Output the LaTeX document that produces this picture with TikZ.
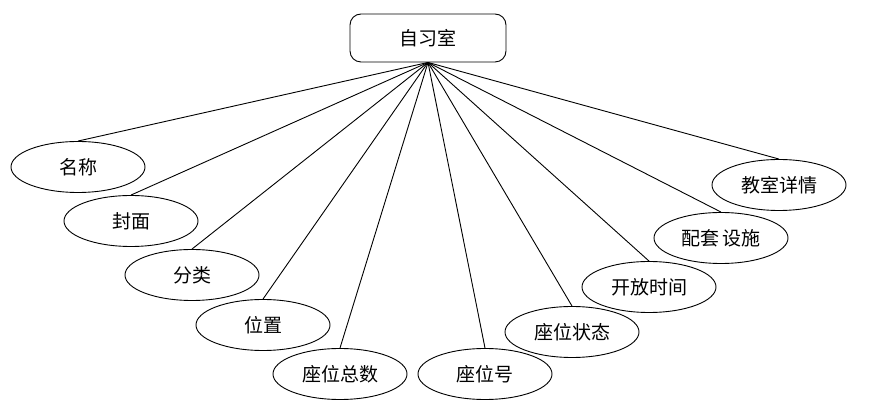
\documentclass[tikz,border=0pt]{standalone}
\usepackage{fontspec}
\newfontfamily\cjk{Noto Sans CJK SC}
\usetikzlibrary{shapes.geometric}
\tikzset{
  attr/.style={ellipse,draw,line width=0.9pt,minimum width=134pt,minimum height=51pt,inner sep=0pt},
  entity/.style={rectangle,rounded corners=11pt,draw,line width=0.9pt,minimum width=156pt,minimum height=48pt},
  link/.style={line width=0.9pt}
}
\begin{document}
\begin{tikzpicture}[x=1pt,y=-1pt,font=\cjk\fontsize{19}{21}\selectfont]
	\useasboundingbox (0,0) rectangle (889,419);
	\node (room) [entity] at (428,38) {自习室};
	\node (name) [attr] at (78,167) {名称};
	\node (cover) [attr] at (131,221) {封面};
	\node (kind) [attr] at (192,275) {分类};
	\node (place) [attr] at (263,325) {位置};
	\node (total) [attr] at (340,374) {座位总数};
	\node (seatno) [attr] at (485,374) {座位号};
	\node (state) [attr] at (572,332) {座位状态};
	\node (hours) [attr] at (649,287) {开放时间};
	\node (facil) [attr] at (721,238) {配套\hspace{3pt}设施};
	\node (detail) [attr] at (779,185) {教室详情};
	\foreach \a in {name,cover,kind,place,total,seatno,state,hours,facil,detail}
		\draw [link] (room.south) -- (\a.north);
\end{tikzpicture}
\end{document}
